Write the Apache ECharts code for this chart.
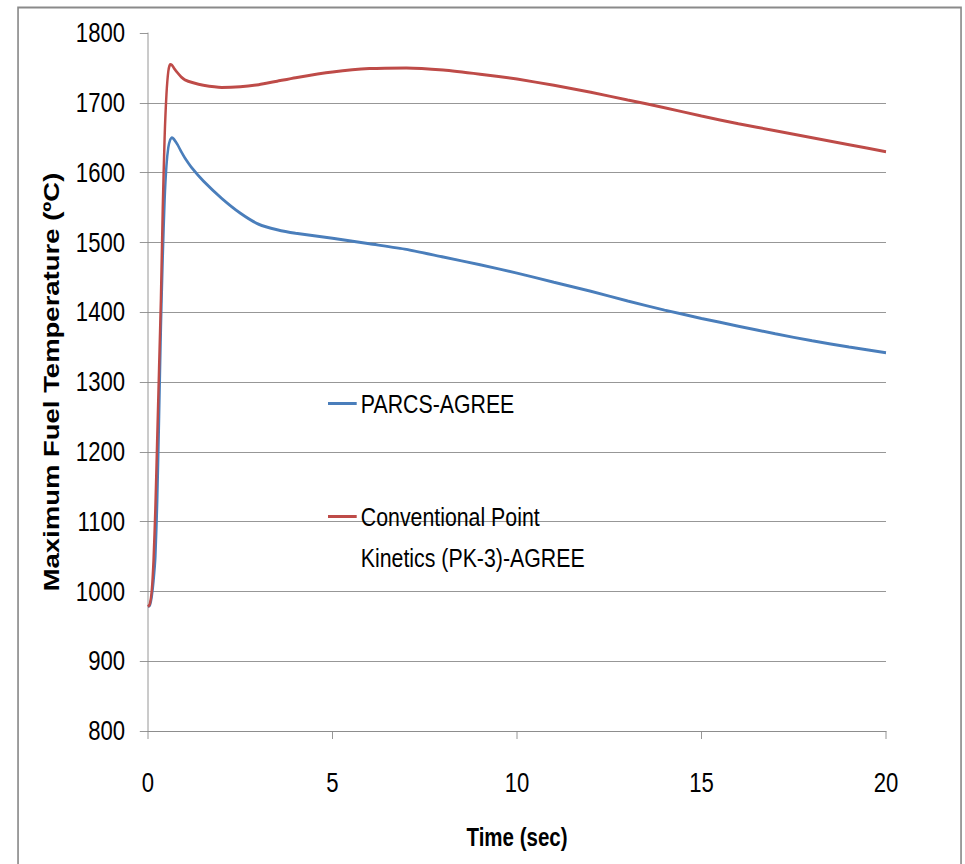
<!DOCTYPE html>
<html>
<head>
<meta charset="utf-8">
<style>
  html, body { margin: 0; padding: 0; background: #fff; overflow: hidden; }
  /* The chart is laid out wide and condensed horizontally, giving narrow lettering */
  #chart { width: 1177px; height: 864px; transform: scaleX(0.82); transform-origin: 0 0; }
</style>
<script src="https://cdn.jsdelivr.net/npm/echarts@6/dist/echarts.min.js"></script>
</head>
<body>
<div id="chart"></div>
<script>
// Time after transient initiation (s)
const timeSec = [0, 0.05, 0.1, 0.15, 0.2, 0.25, 0.3, 0.35, 0.4, 0.45, 0.5, 0.55, 0.6, 0.65, 0.7,
  0.8, 0.9, 1.0, 1.2, 1.5, 2, 2.5, 3, 3.5, 4, 5, 6, 7, 8, 9, 10, 11, 12, 13, 14, 15, 16, 17, 18, 19, 20];

// Maximum fuel temperature (deg C), PARCS-AGREE coupled run
const parcsAgree = [978, 980, 992, 1015, 1050, 1130, 1250, 1380, 1480, 1560, 1610, 1636, 1647, 1650, 1648,
  1640, 1630, 1621, 1606, 1588, 1563, 1542, 1526, 1518, 1513, 1506, 1498, 1490, 1479, 1468, 1456, 1443,
  1430, 1416, 1403, 1391, 1380, 1369, 1359, 1350, 1342];

// Maximum fuel temperature (deg C), conventional point kinetics (PK-3) with AGREE
const pk3Agree = [978, 982, 1000, 1045, 1120, 1220, 1320, 1420, 1550, 1650, 1712, 1745, 1755, 1754, 1750,
  1743, 1737, 1733, 1729, 1725, 1722, 1723, 1726, 1731, 1736, 1744, 1749, 1750, 1747, 1741, 1734, 1725,
  1715, 1704, 1693, 1681, 1670, 1660, 1650, 1640, 1630];

const seriesNames = ['PARCS-AGREE', 'Conventional Point\nKinetics (PK-3)-AGREE'];
const xTicks = { min: 0, max: 20, step: 5 };
const yTicks = { min: 800, max: 1800, step: 100 };

const pair = (xs, ys) => xs.map((x, i) => [x, ys[i]]);

const sans = "'Liberation Sans', Arial, sans-serif";
const gridGray = '#8c8c8c';

const chart = echarts.init(document.getElementById('chart'), null, { renderer: 'svg' });
chart.setOption({
  backgroundColor: '#ffffff',
  animation: false,
  grid: { left: 180.5, right: 96.5, top: 33, bottom: 133, containLabel: false },
  graphic: [{
    type: 'rect',
    left: 19.5, top: 5,
    shape: { width: 1150, height: 880 },
    style: { fill: 'none', stroke: '#8a8a8a', lineWidth: 2 },
    silent: true
  }],
  legend: {
    orient: 'vertical',
    left: 400,
    top: 383,
    padding: 0,
    itemGap: 31,
    itemWidth: 35,
    itemHeight: 3,
    icon: 'rect',
    // a blank first line keeps the icon level with the first line of a two-line name
    formatter: name => (name.indexOf('\n') >= 0 ? ' \n' + name : name),
    textStyle: { fontFamily: sans, fontSize: 26, color: '#000', lineHeight: 41 },
    data: seriesNames
  },
  xAxis: {
    type: 'value',
    min: xTicks.min, max: xTicks.max, interval: xTicks.step,
    name: 'Time (sec)',
    nameLocation: 'middle',
    nameGap: 94,
    nameMoveOverlap: false,
    nameTextStyle: { fontFamily: sans, fontWeight: 'bold', fontSize: 25, color: '#000' },
    axisLine: { show: true, lineStyle: { color: gridGray, width: 1 } },
    axisTick: { show: true, inside: false, length: 8, lineStyle: { color: gridGray } },
    axisLabel: { fontFamily: sans, fontSize: 27, color: '#000', margin: 38 },
    splitLine: { show: false }
  },
  yAxis: {
    type: 'value',
    min: yTicks.min, max: yTicks.max, interval: yTicks.step,
    name: 'Maximum Fuel Temperature (ºC)',
    nameLocation: 'middle',
    nameGap: 105,
    nameMoveOverlap: false,
    nameTextStyle: { fontFamily: sans, fontWeight: 'bold', fontSize: 27.5, color: '#000' },
    axisLine: { show: true, lineStyle: { color: gridGray, width: 1 } },
    axisTick: { show: true, inside: false, length: 10, lineStyle: { color: gridGray } },
    axisLabel: { fontFamily: sans, fontSize: 27, color: '#000', margin: 28, formatter: v => String(v) },
    splitLine: { show: true, showMaxLine: false, lineStyle: { color: gridGray, width: 1 } }
  },
  series: [
    {
      name: seriesNames[0],
      type: 'line',
      data: pair(timeSec, parcsAgree),
      showSymbol: false,
      smooth: 0.2,
      lineStyle: { color: '#4a7ebb', width: 3 },
      itemStyle: { color: '#4a7ebb' },
      z: 3
    },
    {
      name: seriesNames[1],
      type: 'line',
      data: pair(timeSec, pk3Agree),
      showSymbol: false,
      smooth: 0.2,
      lineStyle: { color: '#be4b48', width: 3 },
      itemStyle: { color: '#be4b48' },
      z: 4
    }
  ]
});
</script>
</body>
</html>
